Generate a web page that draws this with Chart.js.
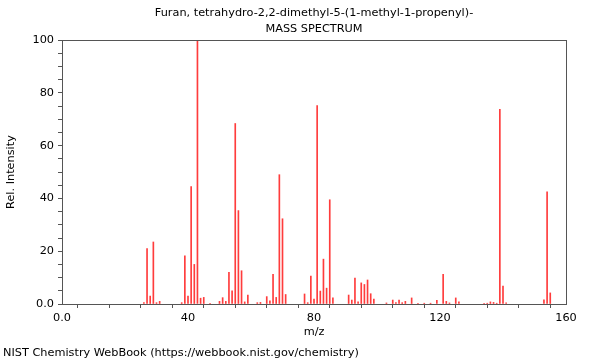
<!DOCTYPE html>
<html>
<head>
<meta charset="utf-8">
<script src="https://cdn.jsdelivr.net/npm/chart.js@4/dist/chart.umd.min.js"></script>
<style>
  body { margin: 0; background: #fff; }
  #wrap { position: relative; width: 600px; height: 360px; }
  #foot { position: absolute; left: 3px; top: 346px; font: 11.3px "DejaVu Sans", sans-serif; color: #000; white-space: nowrap; }
</style>
</head>
<body>
<div id="wrap">
  <canvas id="ms" width="600" height="360"></canvas>
  <div id="foot">NIST Chemistry WebBook (https://webbook.nist.gov/chemistry)</div>
</div>
<script>
// m/z values and relative intensities
const mz = [26, 27, 28, 29, 30, 31,
    38, 39, 40, 41, 42, 43, 44, 45, 47,
    50, 51, 52, 53, 54, 55, 56, 57, 58, 59,
    62, 63, 65, 66, 67, 68, 69, 70, 71,
    77, 78, 79, 80, 81, 82, 83, 84, 85, 86,
    91, 92, 93, 94, 95, 96, 97, 98, 99,
    103, 105, 106, 107, 108, 109, 111, 113, 115, 117, 119, 121, 122, 123, 125, 126,
    134, 135, 136, 137, 138, 139, 140, 141,
    153, 154, 155];
const intensity = [0.5, 21, 3, 23.5, 0.5, 1,
    0.5, 18.3, 3, 44.5, 15, 100, 2.2, 2.5, 0.3,
    1, 2.4, 1, 12, 5, 68.4, 35.4, 12.6, 0.8, 3.4,
    0.5, 0.6, 2.8, 1.2, 11.2, 2.5, 49, 32.3, 3.6,
    3.8, 0.5, 10.6, 1.9, 75.2, 4.9, 17, 6, 39.5, 2.3,
    3.4, 1.5, 9.8, 0.8, 8, 7.4, 9.1, 3.9, 1.9,
    0.4, 1.5, 0.5, 1.5, 0.5, 1, 2.3, 0.3, 0.3, 0.3, 1.4, 11.2, 1, 0.4, 2.3, 0.8,
    0.3, 0.3, 0.8, 0.6, 0.3, 73.8, 6.8, 0.4,
    1.6, 42.5, 4.2];
const xLabels = [0, 40, 80, 120, 160];
const yLabels = [0, 20, 40, 60, 80, 100];

const font = { family: 'DejaVu Sans', size: 11.3 };
const axisColor = '#555';

// draws the box around the plot
const frame = {
    id: 'frame',
    afterDraw(chart) {
        const a = chart.chartArea;
        const c = chart.ctx;
        c.save();
        c.strokeStyle = axisColor;
        c.lineWidth = 1;
        c.strokeRect(Math.round(a.left) + 0.5, Math.round(a.top) + 0.5,
            Math.round(a.right - a.left), Math.round(a.bottom - a.top));
        c.restore();
    }
};

const ctx = document.getElementById('ms').getContext('2d');
new Chart(ctx, {
    type: 'bar',
    data: {
        datasets: [{
            data: mz.map((m, i) => ({ x: m, y: intensity[i] })),
            backgroundColor: 'rgb(255, 60, 60)',
            barThickness: 1
        }]
    },
    options: {
        responsive: false,
        animation: false,
        layout: { padding: { left: 0, right: 34, top: 0, bottom: 21 } },
        plugins: {
            legend: { display: false },
            tooltip: { enabled: false },
            title: {
                display: true,
                text: 'Furan, tetrahydro-2,2-dimethyl-5-(1-methyl-1-propenyl)-',
                color: '#000',
                font: { family: 'DejaVu Sans', size: 11.3, weight: 'normal' },
                padding: { top: 6, bottom: 3 },
                fullSize: false
            },
            subtitle: {
                display: true,
                text: 'MASS SPECTRUM',
                color: '#000',
                font: { family: 'DejaVu Sans', size: 11.3, weight: 'normal' },
                padding: { top: 0, bottom: 4 },
                fullSize: false
            }
        },
        scales: {
            x: {
                type: 'linear',
                min: 0,
                max: 160,
                offset: false,
                grid: { display: true, drawOnChartArea: false, drawTicks: true, tickLength: 4, color: axisColor },
                border: { color: axisColor },
                ticks: {
                    stepSize: 10,
                    autoSkip: false,
                    maxRotation: 0,
                    color: '#000',
                    font: font,
                    padding: 3,
                    callback: v => xLabels.includes(v) ? (v === 0 ? '0.0' : String(v)) : ''
                },
                title: { display: true, text: 'm/z', color: '#000', font: font, padding: { top: 1, bottom: 0 } },
                afterFit(s) { s.height = 35; }
            },
            y: {
                min: 0,
                max: 100,
                grid: { display: true, drawOnChartArea: false, drawTicks: true, tickLength: 4, color: axisColor },
                border: { color: axisColor },
                ticks: {
                    stepSize: 5,
                    autoSkip: false,
                    color: '#000',
                    font: font,
                    padding: 4,
                    callback: v => yLabels.includes(v) ? (v === 0 ? '0.0' : String(v)) : ''
                },
                title: { display: true, text: 'Rel. Intensity', color: '#000', font: font, padding: { top: 4, bottom: 8 } },
                afterFit(s) { s.width = 62; }
            }
        }
    },
    plugins: [frame]
});
</script>
</body>
</html>
